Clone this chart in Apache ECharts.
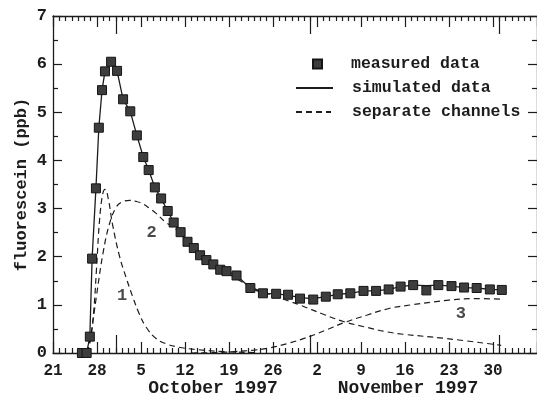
<!DOCTYPE html>
<html>
<head>
<meta charset="utf-8">
<script src="https://cdn.jsdelivr.net/npm/echarts@6/dist/echarts.min.js"></script>
<style>html,body{margin:0;padding:0;background:#fff;}#c{width:537px;height:400px;}</style>
</head>
<body>
<div id="c"></div>
<script>
// x values are days after 21 September 1997
const tickLabels = ['21','28','5','12','19','26','2','9','16','23','30'];
const monthTickDays = [10, 41, 71];
const monthLabels = ['October 1997', 'November 1997'];
const yTitle = 'fluorescein (ppb)';

const measuredDays = [4.6, 5.35, 5.86, 6.22, 6.83, 7.29, 7.80, 8.27, 9.24, 10.19, 11.15, 12.29, 13.34, 14.36, 15.22, 16.2, 17.2, 18.25, 19.2, 20.3, 21.4, 22.4, 23.4, 24.4, 25.5, 26.6, 27.6, 29.2, 31.4, 33.4, 35.5, 37.4, 39.3, 41.4, 43.4, 45.3, 47.3, 49.4, 51.4, 53.4, 55.3, 57.3, 59.4, 61.3, 63.4, 65.4, 67.4, 69.5, 71.4];
const measuredValues = [0.0, 0.0, 0.34, 1.96, 3.42, 4.68, 5.46, 5.85, 6.05, 5.86, 5.27, 5.02, 4.52, 4.07, 3.80, 3.44, 3.21, 2.95, 2.71, 2.51, 2.31, 2.18, 2.03, 1.93, 1.84, 1.73, 1.70, 1.61, 1.35, 1.24, 1.23, 1.21, 1.13, 1.11, 1.17, 1.22, 1.24, 1.29, 1.29, 1.32, 1.38, 1.41, 1.30, 1.41, 1.39, 1.36, 1.35, 1.32, 1.31];

const simDays = [4.6, 5.35, 5.86, 6.22, 6.83, 7.29, 7.80, 8.27, 9.24, 10.19, 11.15, 12.29, 13.34, 14.36, 15.22, 16.2, 17.2, 18.25, 19.2, 20.3, 21.4, 22.4, 23.4, 24.4, 25.5, 26.6, 27.6, 29.2, 31.4, 33.4, 35.5, 37.4, 39.3, 41.4, 43.4, 45.3, 47.3, 49.4, 51.4, 53.4, 55.3, 57.3, 59.4, 61.3, 63.4, 65.4, 67.4, 69.5, 71.4];
const simValues = [0.0, 0.0, 0.34, 1.96, 3.42, 4.68, 5.46, 5.85, 6.05, 5.86, 5.27, 5.02, 4.52, 4.07, 3.80, 3.44, 3.21, 2.95, 2.71, 2.51, 2.31, 2.18, 2.03, 1.93, 1.84, 1.73, 1.70, 1.61, 1.35, 1.24, 1.23, 1.20, 1.15, 1.13, 1.17, 1.22, 1.24, 1.29, 1.29, 1.32, 1.38, 1.41, 1.40, 1.41, 1.39, 1.36, 1.35, 1.32, 1.31];

const ch1Days = [5.4, 6.0, 6.5, 6.9, 7.4, 7.9, 8.3, 8.8, 9.5, 10.6, 11.6, 12.7, 13.7, 14.8, 16.4, 18.0, 20.0, 23.0, 27.0, 32.0];
const ch1Values = [0.0, 0.3, 0.9, 1.7, 2.75, 3.3, 3.4, 3.2, 2.65, 2.0, 1.58, 1.16, 0.82, 0.54, 0.3, 0.19, 0.12, 0.07, 0.03, 0.01];

const ch2Days = [5.5, 6.0, 6.9, 7.95, 9.0, 10.1, 11.0, 12.2, 13.2, 14.3, 15.4, 16.4, 17.9, 19.5, 21.5, 23.5, 25.5, 27.5, 29.5, 31.5, 33.5, 35.5, 37.5, 39.4, 43.1, 46.3, 50.0, 53.1, 55.7, 62.6, 71.3];
const ch2Values = [0.0, 0.35, 1.17, 2.07, 2.69, 3.04, 3.14, 3.17, 3.15, 3.1, 3.0, 2.9, 2.72, 2.58, 2.3, 2.05, 1.85, 1.68, 1.52, 1.37, 1.26, 1.17, 1.08, 0.99, 0.8, 0.65, 0.53, 0.44, 0.39, 0.3, 0.16];

const ch3Days = [22, 26, 29, 32, 34.2, 37.4, 41, 43.5, 46.3, 50, 53.6, 57, 60.5, 63, 66.8, 71.3];
const ch3Values = [0.0, 0.01, 0.03, 0.06, 0.1, 0.2, 0.35, 0.48, 0.63, 0.79, 0.93, 1.0, 1.06, 1.1, 1.13, 1.12];

const annotLabels = ['1', '2', '3'];
const annotDays = [11.0, 15.7, 64.9];
const annotValues = [1.18, 2.49, 0.82];

const FONT = 'Liberation Mono';
const FW = 'bold';
const INK = '#1c1c1c';
const zip = (a, b) => a.map((v, i) => [v, b[i]]);

const chart = echarts.init(document.getElementById('c'), null, {renderer: 'canvas'});

const xBase = (extra) => Object.assign({
  type: 'value', min: 0, max: 77, interval: 7,
  splitLine: {show: false}, minorSplitLine: {show: false}
}, extra);
const tickLine = {color: INK, width: 1.2};

const option = {
  animation: false,
  backgroundColor: '#fff',
  grid: [
    {left: 53, top: 16, right: -4, bottom: 47, containLabel: false},
    {left: 53, top: 16, right: -4, bottom: 47, containLabel: false}
  ],
  xAxis: [
    xBase({gridIndex: 0, position: 'bottom',
      axisLine: {onZero: false, lineStyle: {color: INK, width: 1.3}},
      axisTick: {inside: true, length: 11, lineStyle: tickLine},
      minorTick: {show: true, splitNumber: 7, length: 5, lineStyle: tickLine},
      axisLabel: {margin: 10, fontFamily: FONT, fontWeight: FW, fontSize: 16, color: INK, showMaxLabel: false,
        formatter: v => { const i = Math.round(v / 7); return tickLabels[i] !== undefined ? tickLabels[i] : ''; }}
    }),
    xBase({gridIndex: 0, position: 'top',
      axisLine: {onZero: false, lineStyle: {color: INK, width: 1.3}},
      axisTick: {inside: true, length: 11, lineStyle: tickLine},
      minorTick: {show: true, splitNumber: 7, length: 5, lineStyle: tickLine},
      axisLabel: {show: false}
    }),
    xBase({gridIndex: 1, position: 'bottom',
      axisLine: {show: false, onZero: false},
      axisTick: {inside: true, length: 18, customValues: monthTickDays, lineStyle: tickLine},
      axisLabel: {show: false}
    }),
    xBase({gridIndex: 1, position: 'top',
      axisLine: {show: false, onZero: false},
      axisTick: {inside: true, length: 18, customValues: monthTickDays, lineStyle: tickLine},
      axisLabel: {show: false}
    })
  ],
  yAxis: [
    {type: 'value', gridIndex: 0, position: 'left', min: 0, max: 7, interval: 1,
      name: yTitle, nameLocation: 'middle', nameGap: 23, nameRotate: 90, nameMoveOverlap: false,
      nameTextStyle: {fontFamily: FONT, fontWeight: FW, fontSize: 17, color: INK},
      axisLine: {show: true, onZero: false, lineStyle: {color: INK, width: 1.3}},
      axisTick: {show: true, inside: true, length: 9, lineStyle: tickLine},
      minorTick: {show: true, splitNumber: 2, length: 5, lineStyle: tickLine},
      axisLabel: {margin: 6, fontFamily: FONT, fontWeight: FW, fontSize: 17, color: INK},
      splitLine: {show: false}, minorSplitLine: {show: false}},
    {type: 'value', gridIndex: 0, position: 'right', min: 0, max: 7, interval: 1,
      axisLine: {show: true, onZero: false, lineStyle: {color: INK, width: 1.3}},
      axisTick: {show: true, inside: true, length: 9, lineStyle: tickLine},
      minorTick: {show: true, splitNumber: 2, length: 5, lineStyle: tickLine},
      axisLabel: {show: false}, splitLine: {show: false}, minorSplitLine: {show: false}},
    {type: 'value', gridIndex: 1, min: 0, max: 7, show: false}
  ],
  legend: [
    {data: ['measured data'], left: 312, top: 55, padding: 0, itemWidth: 9, itemHeight: 9, selectedMode: false,
      textStyle: {fontFamily: FONT, fontWeight: FW, fontSize: 16.5, color: INK, lineHeight: 18, padding: [0, 0, 0, 24]}},
    {data: ['simulated data'], left: 295, top: 79, padding: 0, itemWidth: 37, itemHeight: 10, selectedMode: false,
      itemStyle: {color: 'rgba(0,0,0,0)', borderWidth: 0, opacity: 0},
      textStyle: {fontFamily: FONT, fontWeight: FW, fontSize: 16.5, color: INK, lineHeight: 18, padding: [0, 0, 0, 14]}},
    {data: ['separate channels'], left: 295, top: 103, padding: 0, itemWidth: 35, itemHeight: 10, selectedMode: false,
      itemStyle: {color: 'rgba(0,0,0,0)', borderWidth: 0, opacity: 0},
      textStyle: {fontFamily: FONT, fontWeight: FW, fontSize: 16.5, color: INK, lineHeight: 18, padding: [0, 0, 0, 16]}}
  ],
  graphic: [
    {type: 'text', x: 213, y: 388, style: {text: monthLabels[0], font: 'bold 18px "Liberation Mono"', fill: INK, align: 'center', verticalAlign: 'middle'}},
    {type: 'text', x: 408, y: 388, style: {text: monthLabels[1], font: 'bold 18px "Liberation Mono"', fill: INK, align: 'center', verticalAlign: 'middle'}}
  ],
  series: [
    {name: 'separate channels', type: 'line', xAxisIndex: 0, yAxisIndex: 0, data: zip(ch1Days, ch1Values),
      smooth: 0.4, symbol: 'none', lineStyle: {color: INK, width: 1.2, type: [6, 4]}, z: 2},
    {name: 'separate channels', type: 'line', xAxisIndex: 0, yAxisIndex: 0, data: zip(ch2Days, ch2Values),
      smooth: 0.4, symbol: 'none', lineStyle: {color: INK, width: 1.2, type: [6, 4]}, z: 2},
    {name: 'separate channels', type: 'line', xAxisIndex: 0, yAxisIndex: 0, data: zip(ch3Days, ch3Values),
      smooth: 0.4, symbol: 'none', lineStyle: {color: INK, width: 1.2, type: [6, 4]}, z: 2},
    {name: 'simulated data', type: 'line', xAxisIndex: 0, yAxisIndex: 0, data: zip(simDays, simValues),
      symbol: 'none', lineStyle: {color: INK, width: 1.3}, z: 3},
    {name: 'measured data', type: 'scatter', xAxisIndex: 0, yAxisIndex: 0, data: zip(measuredDays, measuredValues),
      symbol: 'rect', symbolSize: 9, itemStyle: {color: '#3d3d3d', borderColor: '#151515', borderWidth: 1, opacity: 1}, z: 4},
    {name: 'channel labels', type: 'scatter', xAxisIndex: 0, yAxisIndex: 0,
      data: annotDays.map((d, i) => [d, annotValues[i], annotLabels[i]]),
      symbolSize: 1, itemStyle: {color: 'rgba(0,0,0,0)'},
      label: {show: true, position: 'inside', formatter: p => p.value[2], fontFamily: FONT, fontWeight: FW, fontSize: 17, color: INK}, z: 5}
  ]
};
chart.setOption(option);
</script>
</body>
</html>
